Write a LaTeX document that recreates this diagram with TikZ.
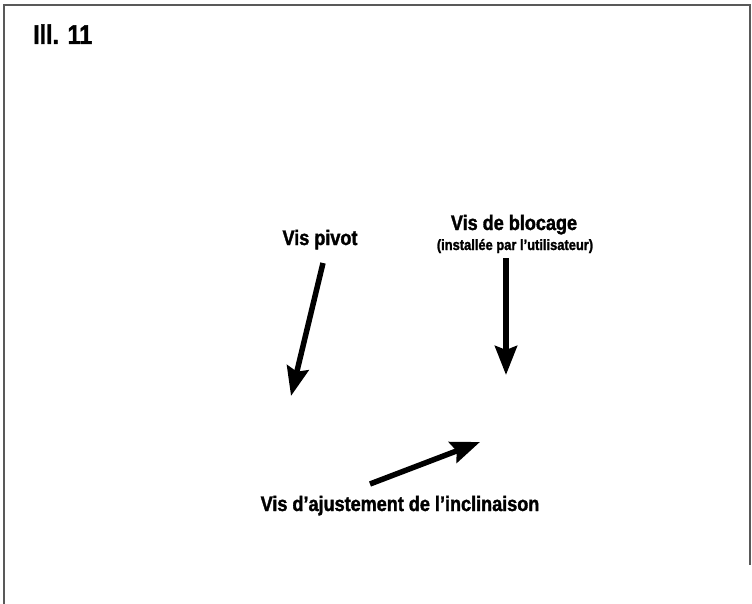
\documentclass[tikz,border=0pt]{standalone}
\usepackage{fontspec}
\setmainfont{Liberation Sans}[FakeStretch=0.86, BoldFeatures={FakeBold=1.6}]
\usetikzlibrary{arrows.meta}
\usetikzlibrary{positioning}

\begin{document}
\begin{tikzpicture}[
    x=1pt, y=-1pt,
    every node/.style={inner sep=0, font=\bfseries},
    label/.style={anchor=base, font=\bfseries\fontsize{21}{24}\selectfont},
    sublabel/.style={anchor=base, font=\bfseries\fontsize{15}{17}\selectfont},
    pointer/.style={line width=5.5pt, -{Stealth[length=29pt, width=22pt, inset=4pt]}},
    frame/.style={draw=black!65, line width=2pt},
    ]
    \useasboundingbox (0,0) rectangle (752,604);

    % open frame
    \coordinate (fbl) at (4,604);
    \coordinate (ftl) at (4,5);
    \coordinate (ftr) at (750,5);
    \coordinate (fbr) at (750,565);
    \draw [frame] (fbl) -- (ftl) -- (ftr) -- (fbr);

    \node (title) [anchor=base west, font=\bfseries\fontsize{27}{30}\selectfont] at (33,44) {Ill. 11};

    \node (pivot) [label] at (320,245) {Vis pivot};
    \node (blocage) [label] at (514,230) {Vis de blocage};
    \node (user) [sublabel] at (515,250) {(installée par l’utilisateur)};
    \node (tilt) [label] at (400,511) {Vis d’ajustement de l’inclinaison};

    \coordinate (pivot-from) at (323,263);
    \coordinate (pivot-to) at (291,396);
    \coordinate (blocage-from) at (506,258);
    \coordinate (blocage-to) at (506,375);
    \coordinate (tilt-from) at (370,484);
    \coordinate (tilt-to) at (480,442);

    \draw [pointer] (pivot-from) to (pivot-to);
    \draw [pointer] (blocage-from) to (blocage-to);
    \draw [pointer] (tilt-from) to (tilt-to);
\end{tikzpicture}
\end{document}
